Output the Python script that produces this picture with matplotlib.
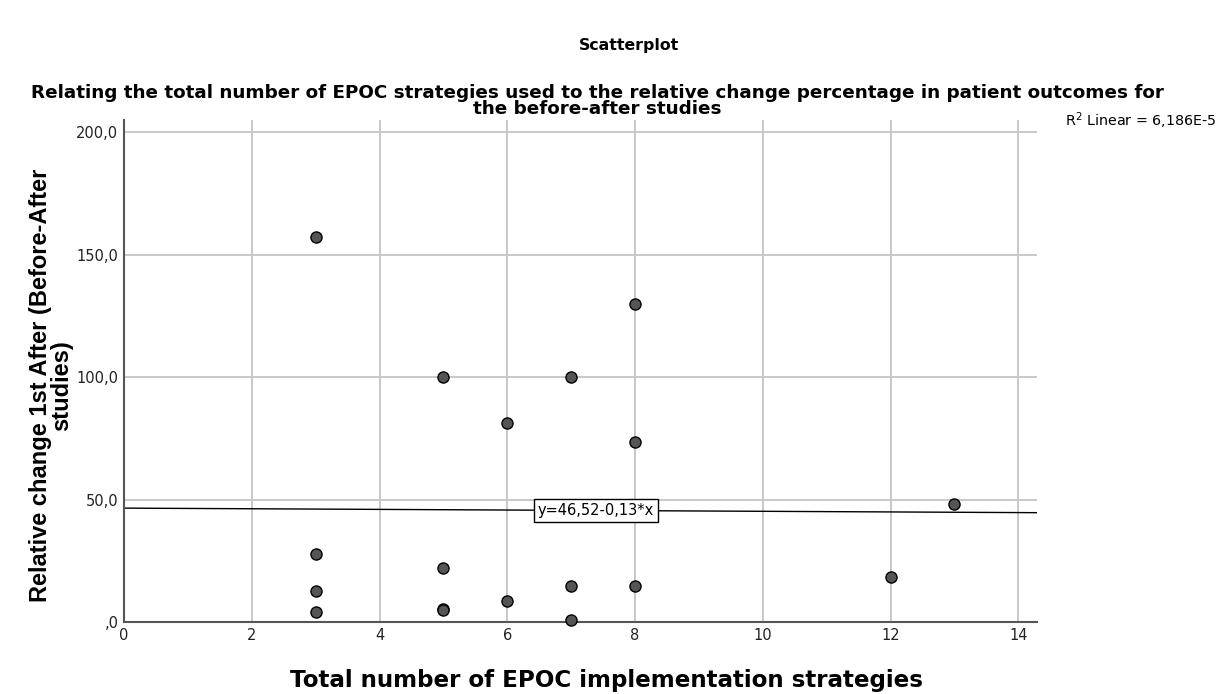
import numpy as np
import matplotlib
matplotlib.use('Agg')
import matplotlib.pyplot as plt

plt.rcParams['font.family'] = ['DejaVu Sans']

# Daten
strategien = [3, 3, 3, 3, 5, 5, 5, 5, 6, 6, 7, 7, 7, 8, 8, 8, 12, 13]
rel_aenderung = [157.3, 27.8, 12.8, 4.0, 99.9, 21.9, 5.3, 4.8, 81.4, 8.7,
                 100.0, 14.9, 1.0, 129.9, 73.6, 14.9, 18.2, 48.2]

# Regressionsgerade (laut Beschriftung)
achsenabschnitt = 46.52
steigung = -0.13
r2_text = 'R$^2$ Linear = 6,186E-5'
gl_text = 'y=46,52-0,13*x'

x_ticks = [0, 2, 4, 6, 8, 10, 12, 14]
y_ticks = [0, 50, 100, 150, 200]
y_labels = [',0', '50,0', '100,0', '150,0', '200,0']

fig = plt.figure(figsize=(12.22, 6.94), dpi=100)
ax = fig.add_axes([0.1015, 0.1037, 0.7475, 0.7233])

ax.set_xlim(0, 14.3)
ax.set_ylim(0, 205)
ax.set_xticks(x_ticks)
ax.set_yticks(y_ticks)
ax.set_yticklabels(y_labels)
ax.tick_params(length=0, labelsize=10.5, colors='#222222', pad=4)
ax.grid(True, color='#c8c8c8', linewidth=1.4)
ax.set_axisbelow(True)
for s in ['top', 'right']:
    ax.spines[s].set_visible(False)
for s in ['left', 'bottom']:
    ax.spines[s].set_color('#555555')
    ax.spines[s].set_linewidth(1.5)

# Regressionsgerade
xl = np.array([0, 14.3])
ax.plot(xl, achsenabschnitt + steigung * xl, color='black', linewidth=1, zorder=2)

# Punkte
ax.plot(strategien, rel_aenderung, 'o', markersize=8, markerfacecolor='#555555',
        markeredgecolor='black', markeredgewidth=1, clip_on=False, zorder=3)

ax.text(7.39, 45.5, gl_text, ha='center', va='center', fontsize=10.5, zorder=4,
        bbox=dict(boxstyle='square,pad=0.25', facecolor='white', edgecolor='black', linewidth=1))

fig.text(0.8715, 0.826, r2_text, ha='left', va='center', fontsize=10.3)

# Titel und Untertitel (zwei Zeilen)
fig.text(0.515, 0.935, 'Scatterplot', ha='center', va='center', fontsize=11.3, fontweight='bold')
fig.text(0.489, 0.866,
         'Relating the total number of EPOC strategies used to the relative change percentage in patient outcomes for',
         ha='center', va='center', fontsize=13.2, fontweight='bold')
fig.text(0.489, 0.843, 'the before-after studies', ha='center', va='center',
         fontsize=13.2, fontweight='bold')

fig.text(0.042, 0.445, 'Relative change 1st After (Before-After\nstudies)', ha='center', va='center',
         rotation=90, fontsize=17, fontweight='bold', linespacing=0.9, family='Liberation Sans')
fig.text(0.496, 0.02, 'Total number of EPOC implementation strategies', ha='center', va='center',
         fontsize=16.6, fontweight='bold')

fig.savefig('out.png', dpi=100)
